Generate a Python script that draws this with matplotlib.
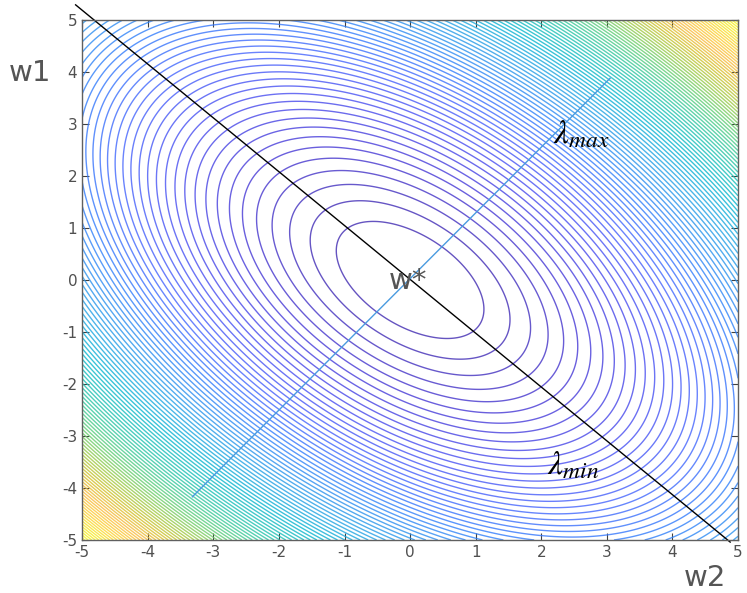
import numpy as np
import matplotlib
matplotlib.use("Agg")
from matplotlib import pyplot as plt
from matplotlib.colors import LinearSegmentedColormap, Normalize

# quadratic form f(w) = w^T A w, minimum at w* = 0
A = [[1.0, 0.5],
     [0.5, 1.0]]
w_range = [-5, 5]
ticks = [-5, -4, -3, -2, -1, 0, 1, 2, 3, 4, 5]

# contour levels (first level and spacing)
level_start = 0.95
level_step = 0.79
level_stop = 76
color_max = 76

# eigen directions drawn on the plot
min_dir_x = [-5.1, 4.88]
min_dir_y = [5.29, -5.04]
max_dir_x = [-3.32, 3.05]
max_dir_y = [-4.17, 3.88]

# parula (matlab) colormap, every 4th row of parula(64)
parula_pts = [(0.2422, 0.1504, 0.6603),
              (0.2706, 0.2147, 0.8364),
              (0.2813, 0.3006, 0.9414),
              (0.2699, 0.3892, 0.9906),
              (0.1963, 0.4847, 0.9892),
              (0.1687, 0.5703, 0.9359),
              (0.1248, 0.6459, 0.8883),
              (0.0297, 0.7082, 0.8163),
              (0.0964, 0.7500, 0.7120),
              (0.2161, 0.7843, 0.5923),
              (0.3909, 0.8029, 0.4354),
              (0.6174, 0.7876, 0.2612),
              (0.8203, 0.7498, 0.1535),
              (0.9728, 0.7298, 0.2394),
              (0.9892, 0.8136, 0.1885),
              (0.9597, 0.9135, 0.1423),
              (0.9769, 0.9839, 0.0805)]
parula = LinearSegmentedColormap.from_list("parula", parula_pts)

plt.rcParams['mathtext.fontset'] = 'stix'
plt.rcParams['axes.unicode_minus'] = False

x = np.linspace(w_range[0], w_range[1], 600)
y = np.linspace(w_range[0], w_range[1], 600)
X, Y = np.meshgrid(x, y)
Z = A[0][0]*X**2 + (A[0][1] + A[1][0])*X*Y + A[1][1]*Y**2

levels = np.arange(level_start, level_stop, level_step)

fig = plt.figure(figsize=(7.47, 5.93), dpi=100)
ax = fig.add_axes([0.110, 0.0894, 0.878, 0.877])

ax.contour(X, Y, Z, levels=levels, cmap=parula, norm=Normalize(0, color_max),
           linewidths=1.0, alpha=0.8)

ax.plot(min_dir_x, min_dir_y, color='black', lw=1.0, clip_on=False)
ax.plot(max_dir_x, max_dir_y, color='#4a9be0', lw=1.0)

ax.set_xlim(w_range)
ax.set_ylim(w_range)
ax.set_xticks(ticks)
ax.set_yticks(ticks)
ax.tick_params(direction='in', top=True, right=True, length=5,
               labelsize=11, labelcolor='#505050', color='#404040')
for s in ax.spines.values():
    s.set_color('#606060')
    s.set_linewidth(1.0)

ax.text(2.18, 2.8, r'$\lambda_{max}$', fontsize=24, va='center', ha='left')
ax.text(2.09, -3.56, r'$\lambda_{min}$', fontsize=24, va='center', ha='left')
ax.text(-0.32, -0.02, 'w*', fontsize=21, color='#555555', va='center', ha='left')

fig.text(30/747, 1 - 73/593, 'w1', fontsize=21, color='#555555', ha='center', va='center')
fig.text(705/747, 1 - 578/593, 'w2', fontsize=21, color='#555555', ha='center', va='center')

fig.savefig('out.png', dpi=100)
